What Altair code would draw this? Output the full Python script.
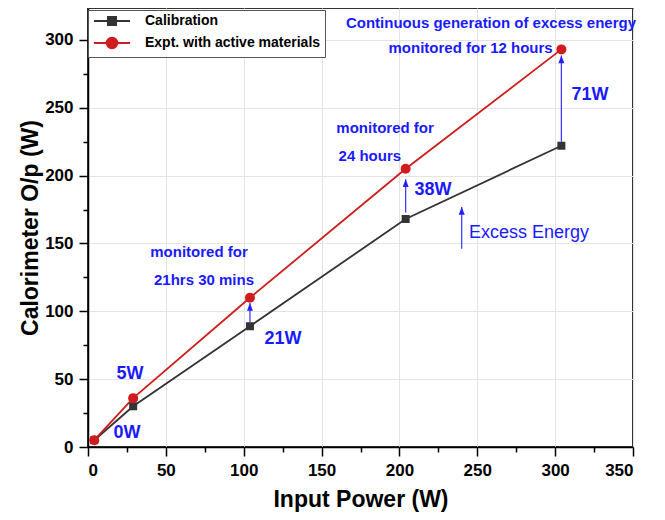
import altair as alt
import pandas as pd

# ---------------- data ----------------
input_power = [4, 29, 104, 204, 304]
calibration = [5, 30, 89, 168, 222]
experiment = [5, 36, 110, 205, 293]
series_names = ["Calibration", "Expt. with active materials"]
series_colors = ["#333333", "#d01c1c"]

arrow_x = [104, 204, 304, 240]
arrow_from = [92, 172.8, 225, 146]
arrow_to = [106.1, 197.3, 288.5, 176.9]

w_labels = ["0W", "5W", "21W", "38W", "71W"]
w_x = [25, 27, 125.2, 221.6, 322.4]
w_y = [10.3, 53.8, 79.6, 189.4, 259.4]

note_labels = ["monitored for", "21hrs 30 mins", "monitored for", "24 hours",
               "Continuous generation of excess energy", "monitored for 12 hours"]
note_x = [71.3, 74.5, 190.8, 181, 258.8, 245.7]
note_y = [143.7, 123, 235, 214.4, 312.5, 294]

excess_label = ["Excess Energy"]
excess_x = [244.7]
excess_y = [157.7]

x_ticks = list(range(0, 351, 25))
y_ticks = list(range(0, 301, 25))

FONT = "Liberation Sans"
BLUE = "#1a1aff"

# ---------------- tables ----------------
series_df = pd.DataFrame({
    "x": input_power * 2,
    "y": calibration + experiment,
    "series": [series_names[0]] * len(input_power) + [series_names[1]] * len(input_power),
})
legend_df = pd.DataFrame({"x": [-500, -500], "y": [-500, -500], "series": series_names})
arrow_df = pd.DataFrame({"x": arrow_x, "y": arrow_from, "y2": arrow_to})
w_df = pd.DataFrame({"t": w_labels, "x": w_x, "y": w_y})
note_df = pd.DataFrame({"t": note_labels, "x": note_x, "y": note_y})
excess_df = pd.DataFrame({"t": excess_label, "x": excess_x, "y": excess_y})

major = "datum.value % 50 === 0"


def make_axis(title, values, title_pad):
    return alt.Axis(
        values=values,
        title=title,
        labelExpr=f"{major} ? datum.label : ''",
        labelOverlap=False,
        tickSize={"condition": {"test": major, "value": 9}, "value": 5},
        gridOpacity={"condition": {"test": major, "value": 1}, "value": 0},
        gridColor="#e3e3e3",
        gridWidth=1,
        labelFont=FONT,
        labelFontSize=17,
        labelFontWeight="bold",
        labelColor="black",
        labelPadding=6,
        titleFont=FONT,
        titleFontSize=23,
        titleFontWeight="bold",
        titleColor="black",
        titlePadding=title_pad,
        domainColor="black",
        domainWidth=1.5,
        tickColor="black",
        tickWidth=1.5,
    )


xs = alt.Scale(domain=[0, 350], nice=False, zero=False)
ys = alt.Scale(domain=[0, 323.5], nice=False, zero=False)
xaxis = make_axis("Input Power (W)", x_ticks, 10)
yaxis = make_axis("Calorimeter O/p (W)", y_ticks, 2)


def X(field="x"):
    return alt.X(f"{field}:Q", scale=xs, axis=xaxis)


def Y(field="y"):
    return alt.Y(f"{field}:Q", scale=ys, axis=yaxis)


sq_path = "M-3.6,0H3.6M-0.8,-0.8H0.8V0.8H-0.8Z"
ci_path = "M-3.6,0H3.6M-1.05,0A1.05,1.05,0,1,0,1.05,0A1.05,1.05,0,1,0,-1.05,0Z"

legend = alt.Legend(
    title=None,
    orient="none",
    legendX=0,
    legendY=2,
    fillColor="white",
    strokeColor="#555555",
    padding=4,
    rowPadding=4,
    symbolSize=100,
    symbolOffset=13,
    symbolStrokeWidth=2,
    symbolOpacity=1,
    labelOffset=26,
    labelLimit=400,
    labelFont=FONT,
    labelFontSize=14,
    labelFontWeight="bold",
    labelColor="black",
)

fill = alt.Fill("series:N", scale=alt.Scale(domain=series_names, range=series_colors), legend=legend)
stroke = alt.Stroke("series:N", scale=alt.Scale(domain=series_names, range=series_colors), legend=legend)
shape = alt.Shape("series:N", scale=alt.Scale(domain=series_names, range=[sq_path, ci_path]), legend=legend)

lines = alt.Chart(series_df).mark_line(strokeWidth=1.8).encode(x=X(), y=Y(), stroke=stroke)

cal_pts = alt.Chart(series_df).transform_filter(
    alt.datum.series == series_names[0]
).mark_point(shape="square", filled=True, size=64, opacity=1).encode(x=X(), y=Y(), fill=fill)

exp_pts = alt.Chart(series_df).transform_filter(
    alt.datum.series == series_names[1]
).mark_point(shape="circle", filled=True, size=100, opacity=1).encode(x=X(), y=Y(), fill=fill)

legend_pts = alt.Chart(legend_df).mark_point(clip=True, filled=True, opacity=1).encode(
    x=X(), y=Y(), fill=fill, stroke=stroke, shape=shape
)

arrow_lines = alt.Chart(arrow_df).mark_rule(color="#3333ff", strokeWidth=1.2).encode(
    x=X(), y=Y(), y2="y2:Q"
)
arrow_heads = alt.Chart(arrow_df).mark_point(
    shape="M0,0L-1,2.6L1,2.6Z", filled=True, size=36, color="#2222ff", opacity=1
).encode(x=X(), y=Y("y2"))

w_text = alt.Chart(w_df).mark_text(
    font=FONT, fontSize=18, fontWeight="bold", color=BLUE, baseline="middle", align="center"
).encode(x=X(), y=Y(), text="t:N")

note_text = alt.Chart(note_df).mark_text(
    font=FONT, fontSize=15, fontWeight="bold", color=BLUE, baseline="middle", align="center"
).encode(x=X(), y=Y(), text="t:N")

excess_text = alt.Chart(excess_df).mark_text(
    font=FONT, fontSize=18, fontWeight="normal", color=BLUE, baseline="middle", align="left"
).encode(x=X(), y=Y(), text="t:N")

chart = alt.layer(
    lines, arrow_lines, arrow_heads, cal_pts, exp_pts, legend_pts, w_text, note_text, excess_text
).properties(
    width=545,
    height=439,
    autosize=alt.AutoSizeParams(type="none"),
    padding={"left": 80, "top": 0, "right": 16, "bottom": 65},
).configure_view(stroke="#333333", strokeWidth=2)

chart.save("out.html", embed_options={"renderer": "svg", "actions": False})
